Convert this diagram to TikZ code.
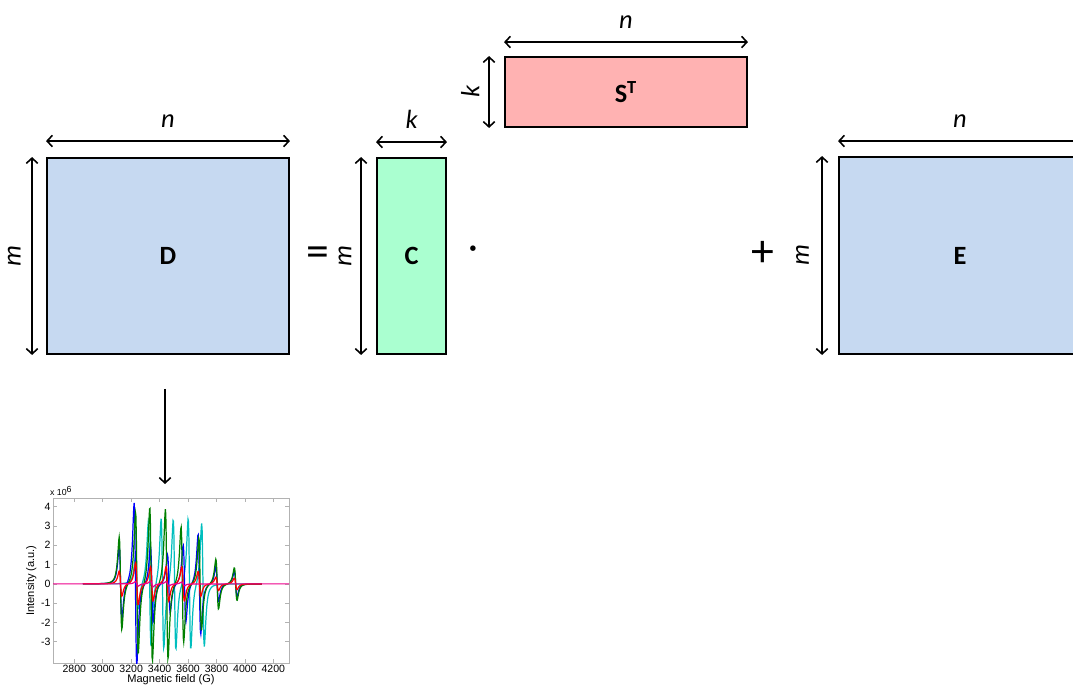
\documentclass[tikz,border=0pt]{standalone}
\usepackage{fontspec}
\setmainfont{Carlito}
\newfontfamily\plotfont{Liberation Sans}
\usepackage{pgfplots}
\pgfplotsset{compat=1.18}
\usetikzlibrary{positioning, arrows.meta, calc}

\definecolor{matblue}{RGB}{198,217,241}
\definecolor{matgreen}{RGB}{170,255,208}
\definecolor{matred}{RGB}{255,178,178}
\definecolor{specgreen}{RGB}{0,128,0}
\definecolor{speccyan}{RGB}{0,190,190}

\begin{document}
\begin{tikzpicture}[
        mat/.style={draw, line width=1.1pt, inner sep=0pt, font=\fontsize{15}{18}\selectfont\bfseries},
        dim/.style={{Straight Barb[length=3pt,width=6.5pt]}-{Straight Barb[length=3pt,width=6.5pt]}, line width=0.9pt},
        dimlabel/.style={font=\fontsize{15}{18}\selectfont\itshape, inner sep=2pt},
        op/.style={font=\fontsize{26}{30}\selectfont},
        connection/.style={-{Straight Barb[length=3pt,width=6.5pt]}, line width=0.9pt}
    ]
        \useasboundingbox (0,0) rectangle (21.46,13.68);
        \clip (0,0) rectangle (21.46,13.68);

        % Data matrix D
        \node[mat, fill=matblue, minimum width=4.84cm, minimum height=3.92cm] (D) at (3.36, 8.56) {D};
        \draw[dim] ([yshift=0.32cm]D.north west) -- ([yshift=0.32cm]D.north east)
            node[dimlabel, midway, above=5pt] (Dn) {n};
        \draw[dim] ([xshift=-0.28cm]D.south west) -- ([xshift=-0.28cm]D.north west)
            node[dimlabel, midway, sloped, above=4pt] (Dm) {m};

        \node[op] (eq) at (6.36, 8.55) {=};

        % Concentration matrix C
        \node[mat, fill=matgreen, minimum width=1.38cm, minimum height=3.92cm] (C) at (8.23, 8.56) {C};
        \draw[dim] ([yshift=0.3cm]C.north west) -- ([yshift=0.3cm]C.north east)
            node[dimlabel, midway, above=5pt] (Ck) {k};
        \draw[dim] ([xshift=-0.3cm]C.south west) -- ([xshift=-0.3cm]C.north west)
            node[dimlabel, midway, sloped, above=3pt] (Cm) {m};

        \node[op, font=\fontsize{22}{24}\selectfont] (dot) at (9.46, 8.62) {·};

        % Spectra matrix S^T
        \node[mat, fill=matred, minimum width=4.84cm, minimum height=1.40cm] (S) at (12.52, 11.84) {S\textsuperscript{T}};
        \draw[dim] ([yshift=0.28cm]S.north west) -- ([yshift=0.28cm]S.north east)
            node[dimlabel, midway, above=5pt] (Sn) {n};
        \draw[dim] ([xshift=-0.3cm]S.south west) -- ([xshift=-0.3cm]S.north west)
            node[dimlabel, midway, sloped, above=3pt] (Sk) {k};

        \node[op] (plus) at (15.25, 8.60) {+};

        % Residual matrix E
        \node[mat, fill=matblue, minimum width=4.84cm, minimum height=3.94cm] (E) at (19.20, 8.57) {E};
        \draw[dim] ([yshift=0.3cm]E.north west) -- ([yshift=0.3cm]E.north east)
            node[dimlabel, midway, above=5pt] (En) {n};
        \draw[dim] ([xshift=-0.32cm]E.south west) -- ([xshift=-0.32cm]E.north west)
            node[dimlabel, midway, sloped, above=5pt] (Em) {m};

        % Rows of D are spectra
        \coordinate (specTop) at (3.30, 4.00);
        \draw[connection] ([xshift=-0.06cm, yshift=-0.68cm]D.south) -- (specTop);

        \begin{axis}[
            name=spec, at={(1.06cm,0.42cm)}, anchor=south west,
            scale only axis, width=4.72cm, height=3.30cm,
            xmin=2650, xmax=4310, ymin=-4.1, ymax=4.45,
            xtick={2800,3000,...,4200}, ytick={-3,...,4},
            /pgf/number format/assume math mode=true,
            /pgf/number format/set thousands separator={},
            xticklabel={\pgfmathprintnumber{\tick}}, yticklabel={\pgfmathprintnumber{\tick}},
            tick align=inside, major tick length=2pt,
            axis line style={gray!60}, every tick/.style={gray!60},
            tick label style={font=\plotfont\fontsize{6}{7}\selectfont, inner sep=1.2pt},
            label style={font=\plotfont\fontsize{6.3}{7}\selectfont},
            xlabel={Magnetic field (G)}, ylabel={Intensity (a.u.)},
            xlabel style={yshift=4pt}, ylabel style={yshift=-2pt},
            declare function={dl(\x,\c)=-3.08*((\x-\c)/16)/(1+((\x-\c)/16)^2)^2;},
            domain=2860:4120, samples=420, no markers
        ]
            % cyan spectrum
            \addplot[speccyan, line width=0.7pt]
                {1.4*dl(x,3240)+3.2*dl(x,3330)+3.4*dl(x,3420)+3.4*dl(x,3505)+3.4*dl(x,3610)+3.2*dl(x,3705)};
            % blue spectrum
            \addplot[blue, line width=0.7pt]
                {1.9*dl(x,3125)+4.2*dl(x,3230)+2.0*dl(x,3345)+1.5*dl(x,3465)+2.0*dl(x,3575)+2.6*dl(x,3680)+0.9*dl(x,3805)+0.65*dl(x,3935)};
            % green spectrum
            \addplot[specgreen, line width=0.7pt]
                {2.4*dl(x,3125)+3.7*dl(x,3240)+4.0*dl(x,3340)+3.9*dl(x,3450)+3.0*dl(x,3560)+2.4*dl(x,3685)+1.3*dl(x,3805)+0.85*dl(x,3935)};
            % red spectrum
            \addplot[red, line width=0.7pt]
                {0.65*dl(x,3125)+1.1*dl(x,3240)+0.9*dl(x,3345)+0.9*dl(x,3455)+0.9*dl(x,3565)+0.65*dl(x,3680)+0.35*dl(x,3805)+0.3*dl(x,3935)};
            % magenta spectrum
            \addplot[magenta, line width=0.7pt, domain=2650:4310, samples=300]
                {0.12*dl(x,3240)+0.15*dl(x,3345)+0.12*dl(x,3455)+0.1*dl(x,3565)};
        \end{axis}
        \node[font=\plotfont\fontsize{5}{6}\selectfont, anchor=south west, inner sep=1pt] (expo)
            at ([xshift=-0.1cm]spec.north west) {x 10\textsuperscript{6}};
    \end{tikzpicture}
\end{document}
